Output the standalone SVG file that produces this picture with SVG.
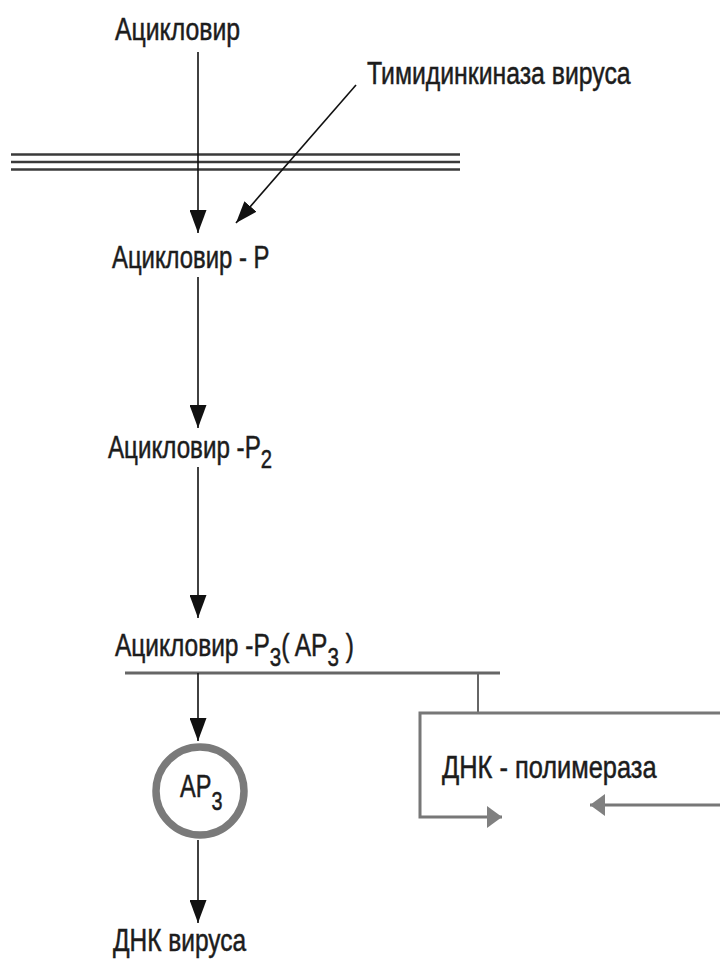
<svg xmlns="http://www.w3.org/2000/svg" width="720" height="959" viewBox="0 0 720 959">
<style>
.t{font-family:"Liberation Sans","Noto Sans",Arial,sans-serif;font-size:31px;fill:#1c1c1c;stroke:#1c1c1c;stroke-width:0.5}
.s{font-size:26px}
.ln{stroke:#111;stroke-width:1.6;fill:none}
.mem{stroke:#3a3a3a;stroke-width:2.5;fill:none}
.gr{stroke:#777;stroke-width:3;fill:none}
</style>
<defs>
<marker id="ah" viewBox="0 0 23 17" markerUnits="userSpaceOnUse" markerWidth="23" markerHeight="17" refX="23" refY="8.5" orient="auto">
<path d="M0,0 L23,8.5 L0,17 z" fill="#111"/>
</marker>
<marker id="ahd" viewBox="0 0 22 16" markerUnits="userSpaceOnUse" markerWidth="22" markerHeight="16" refX="22" refY="8" orient="auto">
<path d="M0,0 L22,8 L0,16 z" fill="#111"/>
</marker>
<marker id="ag" viewBox="0 0 15 22" markerUnits="userSpaceOnUse" markerWidth="15" markerHeight="22" refX="15" refY="11" orient="auto">
<path d="M0,0 L15,11 L0,22 z" fill="#808080"/>
</marker>
</defs>
<rect width="720" height="959" fill="#fff"/>

<g id="membrane">
<line class="mem" x1="11" y1="154.5" x2="460" y2="154.5"/>
<line class="mem" x1="11" y1="162" x2="460" y2="162"/>
<line class="mem" x1="11" y1="169.5" x2="460" y2="169.5"/>
</g>

<g id="connectors">
<line class="ln" x1="198" y1="52" x2="198" y2="233" marker-end="url(#ah)"/>
<line class="ln" x1="356" y1="85" x2="236" y2="223" marker-end="url(#ahd)"/>
<line class="ln" x1="198" y1="277" x2="198" y2="428" marker-end="url(#ah)"/>
<line class="ln" x1="198" y1="467" x2="198" y2="618" marker-end="url(#ah)"/>
<line x1="125" y1="673" x2="500" y2="673" stroke="#666" stroke-width="3"/>
<line x1="478" y1="673" x2="478" y2="713" stroke="#666" stroke-width="2"/>
<line class="ln" x1="198" y1="673" x2="198" y2="741" marker-end="url(#ah)"/>
<line class="ln" x1="198" y1="840" x2="198" y2="923" marker-end="url(#ah)"/>
<path class="gr" d="M720,713 H420 V817 H502" marker-end="url(#ag)"/>
<line class="gr" x1="720" y1="805" x2="590" y2="805" marker-end="url(#ag)"/>
</g>

<g id="acyclovir">
<text class="t" transform="translate(115,40) scale(0.8,1)">Ацикловир</text>
</g>
<g id="thymidine-kinase">
<text class="t" transform="translate(367,84) scale(0.8,1)">Тимидинкиназа вируса</text>
</g>
<g id="acyclovir-p">
<text class="t" transform="translate(112,268) scale(0.77,1)">Ацикловир - P</text>
</g>
<g id="acyclovir-p2">
<text class="t" transform="translate(108,458) scale(0.78,1)">Ацикловир -P<tspan class="s" dy="10">2</tspan></text>
</g>
<g id="acyclovir-p3">
<text class="t" transform="translate(115,656) scale(0.79,1)">Ацикловир -P<tspan class="s" dy="10">3</tspan><tspan dy="-10">( AP</tspan><tspan class="s" dy="10">3</tspan><tspan dy="-10"> )</tspan></text>
</g>
<g id="ap3">
<circle cx="200" cy="791" r="44" fill="#fff" stroke="#7a7a7a" stroke-width="7.5"/>
<text class="t" transform="translate(180,797) scale(0.76,1)">AP<tspan class="s" dy="13">3</tspan></text>
</g>
<g id="dna-polymerase">
<text class="t" transform="translate(442,778) scale(0.82,1)">ДНК - полимераза</text>
</g>
<g id="viral-dna">
<text class="t" transform="translate(113,951) scale(0.79,1)">ДНК вируса</text>
</g>
</svg>
